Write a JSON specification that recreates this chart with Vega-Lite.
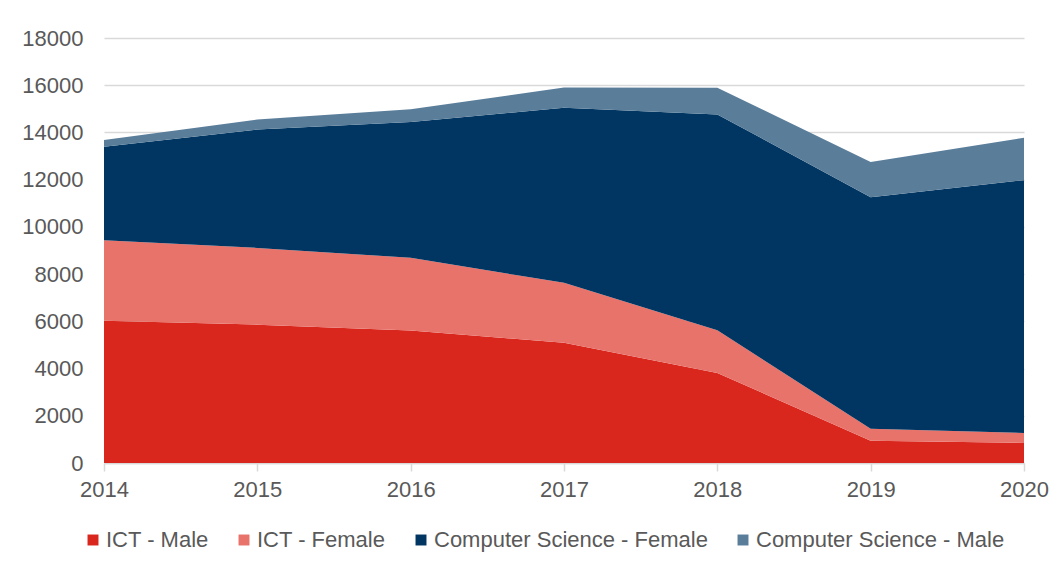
{
  "$schema": "https://vega.github.io/schema/vega-lite/v6.json",
  "width": 920,
  "height": 425,
  "autosize": {"type": "none"},
  "padding": {"left": 104, "top": 38, "right": 39, "bottom": 103},
  "background": "white",
  "config": {
    "view": {"stroke": null},
    "font": "Liberation Sans",
    "axis": {"labelFont": "Liberation Sans", "labelColor": "#595959", "labelFontSize": 22, "gridColor": "#D9D9D9", "gridWidth": 1.5, "domainColor": "#D9D9D9", "domainWidth": 1.5, "tickColor": "#D9D9D9", "tickWidth": 1.5},
    "legend": {"labelFont": "Liberation Sans", "labelColor": "#595959", "labelFontSize": 22, "labelLimit": 0}
  },
  "data": {
    "values": [
      {"year": "2014", "series": "ICT - Male", "ord": 1, "value": 6030},
      {"year": "2015", "series": "ICT - Male", "ord": 1, "value": 5860},
      {"year": "2016", "series": "ICT - Male", "ord": 1, "value": 5610},
      {"year": "2017", "series": "ICT - Male", "ord": 1, "value": 5090},
      {"year": "2018", "series": "ICT - Male", "ord": 1, "value": 3815},
      {"year": "2019", "series": "ICT - Male", "ord": 1, "value": 945},
      {"year": "2020", "series": "ICT - Male", "ord": 1, "value": 850},
      {"year": "2014", "series": "ICT - Female", "ord": 2, "value": 3405},
      {"year": "2015", "series": "ICT - Female", "ord": 2, "value": 3250},
      {"year": "2016", "series": "ICT - Female", "ord": 2, "value": 3080},
      {"year": "2017", "series": "ICT - Female", "ord": 2, "value": 2540},
      {"year": "2018", "series": "ICT - Female", "ord": 2, "value": 1805},
      {"year": "2019", "series": "ICT - Female", "ord": 2, "value": 510},
      {"year": "2020", "series": "ICT - Female", "ord": 2, "value": 420},
      {"year": "2014", "series": "Computer Science - Female", "ord": 3, "value": 3960},
      {"year": "2015", "series": "Computer Science - Female", "ord": 3, "value": 5015},
      {"year": "2016", "series": "Computer Science - Female", "ord": 3, "value": 5750},
      {"year": "2017", "series": "Computer Science - Female", "ord": 3, "value": 7420},
      {"year": "2018", "series": "Computer Science - Female", "ord": 3, "value": 9145},
      {"year": "2019", "series": "Computer Science - Female", "ord": 3, "value": 9805},
      {"year": "2020", "series": "Computer Science - Female", "ord": 3, "value": 10710},
      {"year": "2014", "series": "Computer Science - Male", "ord": 4, "value": 280},
      {"year": "2015", "series": "Computer Science - Male", "ord": 4, "value": 425},
      {"year": "2016", "series": "Computer Science - Male", "ord": 4, "value": 540},
      {"year": "2017", "series": "Computer Science - Male", "ord": 4, "value": 850},
      {"year": "2018", "series": "Computer Science - Male", "ord": 4, "value": 1130},
      {"year": "2019", "series": "Computer Science - Male", "ord": 4, "value": 1485},
      {"year": "2020", "series": "Computer Science - Male", "ord": 4, "value": 1795}
    ]
  },
  "mark": {"type": "area", "opacity": 1},
  "encoding": {
    "x": {
      "field": "year", "type": "ordinal",
      "scale": {"type": "point", "padding": 0},
      "axis": {"title": null, "labelAngle": 0, "tickSize": 8, "labelPadding": 8, "grid": false}
    },
    "y": {
      "field": "value", "type": "quantitative", "stack": "zero",
      "scale": {"domain": [0, 18000], "nice": false},
      "axis": {"title": null, "values": [0, 2000, 4000, 6000, 8000, 10000, 12000, 14000, 16000, 18000], "format": "d", "ticks": false, "domain": false, "labelPadding": 21}
    },
    "color": {
      "field": "series", "type": "nominal",
      "scale": {
        "domain": ["ICT - Male", "ICT - Female", "Computer Science - Female", "Computer Science - Male"],
        "range": ["#D9271D", "#E8736B", "#003661", "#5A7D9A"]
      },
      "legend": {
        "title": null, "orient": "none", "direction": "horizontal",
        "legendX": -22, "legendY": 491,
        "symbolType": "square", "symbolSize": 120, "symbolStrokeWidth": 0, "symbolOpacity": 1,
        "labelOffset": 2, "columnPadding": 24
      }
    },
    "order": {"field": "ord", "type": "quantitative"}
  }
}
